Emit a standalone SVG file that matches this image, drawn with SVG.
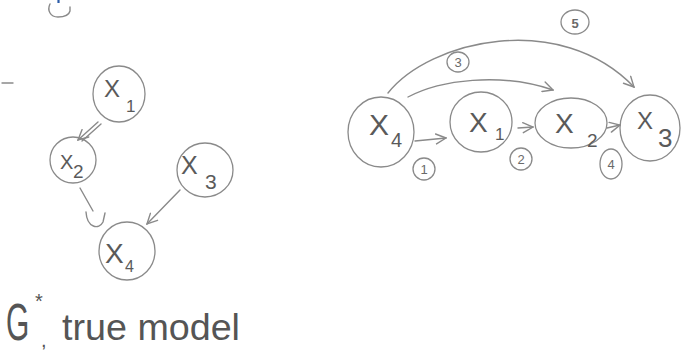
<svg xmlns="http://www.w3.org/2000/svg" width="681" height="356" viewBox="0 0 681 356">
  <style>
    .nd { fill: none; stroke: #8a8a8a; stroke-width: 1.3; }
    .ln { fill: none; stroke: #8a8a8a; stroke-width: 1.4; stroke-linecap: round; }
    .lb { font-family: "Liberation Sans", "DejaVu Sans", sans-serif; fill: #5a5a5a; }
    .num { font-family: "Liberation Sans", "DejaVu Sans", sans-serif; fill: #6a6a6a; font-size: 13px; text-anchor: middle; }
    .cap { font-family: "Liberation Sans", "DejaVu Sans", sans-serif; fill: #555; }
  </style>
  <defs>
    <marker id="ah" viewBox="0 0 12 12" refX="11" refY="6" markerWidth="12" markerHeight="12" markerUnits="userSpaceOnUse" orient="auto">
      <path d="M1 1 L11 6 L1 11" fill="none" stroke="#8a8a8a" stroke-width="1.4" stroke-linecap="round"/>
    </marker>
  </defs>

  <!-- cropped fragments at top -->
  <path d="M58.5 0 L58.5 3" stroke="#2a5ba8" stroke-width="2.2" fill="none"/>
  <path class="ln" d="M50 4 C47 10 50 17 58 17 C65 17 69 15 70 11 L70 7"/>
  <path class="ln" d="M2 83 L13 83"/>

  <!-- connectors -->
  <g id="connectors">
    <!-- left graph -->
    <path class="ln" d="M98 122 L78 140" marker-end="url(#ah)"/>
    <path class="ln" d="M101 124 L82 141"/>
    <path class="ln" d="M80 188 L93 211"/>
    <path class="ln" d="M86 212 C87 228 99 230 103 222 L105 213"/>
    <path class="ln" d="M180 190 L147 224" marker-end="url(#ah)"/>
    <!-- right graph -->
    <path class="ln" d="M415 141 L446 138" marker-end="url(#ah)"/>
    <path class="ln" d="M518 128 L533 127" marker-end="url(#ah)"/>
    <path class="ln" d="M607 128 L620 125" marker-end="url(#ah)"/>
    <path class="ln" d="M408 97 C440 80 500 72 553 90" marker-end="url(#ah)"/>
    <path class="ln" d="M388 93 C430 40 560 10 634 87" marker-end="url(#ah)"/>
  </g>

  <!-- left graph nodes -->
  <g id="L_X1">
    <ellipse class="nd" cx="119" cy="94" rx="26" ry="28"/>
    <text class="lb" x="104" y="97" font-size="24">X</text>
    <text class="lb" x="126" y="112" font-size="17">1</text>
  </g>
  <g id="L_X2">
    <ellipse class="nd" cx="73" cy="160" rx="23" ry="23"/>
    <text class="lb" x="60" y="169" font-size="20">X</text>
    <text class="lb" x="73" y="178" font-size="19">2</text>
  </g>
  <g id="L_X3">
    <ellipse class="nd" cx="205" cy="170" rx="28" ry="27"/>
    <text class="lb" x="181" y="174" font-size="25">X</text>
    <text class="lb" x="205" y="189" font-size="21">3</text>
  </g>
  <g id="L_X4">
    <ellipse class="nd" cx="127" cy="251" rx="28" ry="29"/>
    <text class="lb" x="105" y="263" font-size="28">X</text>
    <text class="lb" x="125" y="272" font-size="16">4</text>
  </g>

  <!-- right graph nodes -->
  <g id="R_X4">
    <ellipse class="nd" cx="381" cy="132" rx="33" ry="35"/>
    <text class="lb" x="369" y="135" font-size="30">X</text>
    <text class="lb" x="391" y="147" font-size="20">4</text>
  </g>
  <g id="R_X1">
    <ellipse class="nd" cx="481" cy="122" rx="31" ry="30"/>
    <text class="lb" x="469" y="132" font-size="28">X</text>
    <text class="lb" x="495" y="140" font-size="17">1</text>
  </g>
  <g id="R_X2">
    <ellipse class="nd" cx="571" cy="123" rx="36" ry="25"/>
    <text class="lb" x="555" y="133" font-size="28">X</text>
    <text class="lb" x="587" y="147" font-size="19">2</text>
  </g>
  <g id="R_X3">
    <ellipse class="nd" cx="650" cy="128" rx="30" ry="33"/>
    <text class="lb" x="637" y="129" font-size="24">X</text>
    <text class="lb" x="658" y="147" font-size="26">3</text>
  </g>

  <!-- order labels -->
  <g id="n1"><ellipse class="nd" cx="424" cy="169" rx="11" ry="11"/><text class="num" x="424" y="174">1</text></g>
  <g id="n2"><ellipse class="nd" cx="521" cy="159" rx="11" ry="11"/><text class="num" x="521" y="164">2</text></g>
  <g id="n3"><ellipse class="nd" cx="458" cy="62" rx="11" ry="10"/><text class="num" x="458" y="67">3</text></g>
  <g id="n4"><ellipse class="nd" cx="611" cy="164" rx="11" ry="15"/><text class="num" x="611" y="169">4</text></g>
  <g id="n5"><ellipse class="nd" cx="575" cy="22" rx="14" ry="12"/><text class="num" x="575" y="28" font-size="16" font-weight="bold" fill="#444">5</text></g>

  <!-- caption -->
  <text class="cap" transform="translate(6 340) scale(1 1.7)" x="0" y="0" font-size="30">G</text>
  <text class="cap" x="35" y="308" font-size="20">*</text>
  <text class="cap" x="41" y="347" font-size="20">,</text>
  <text class="cap" x="62" y="340" font-size="36" textLength="178" lengthAdjust="spacingAndGlyphs">true model</text>
</svg>
